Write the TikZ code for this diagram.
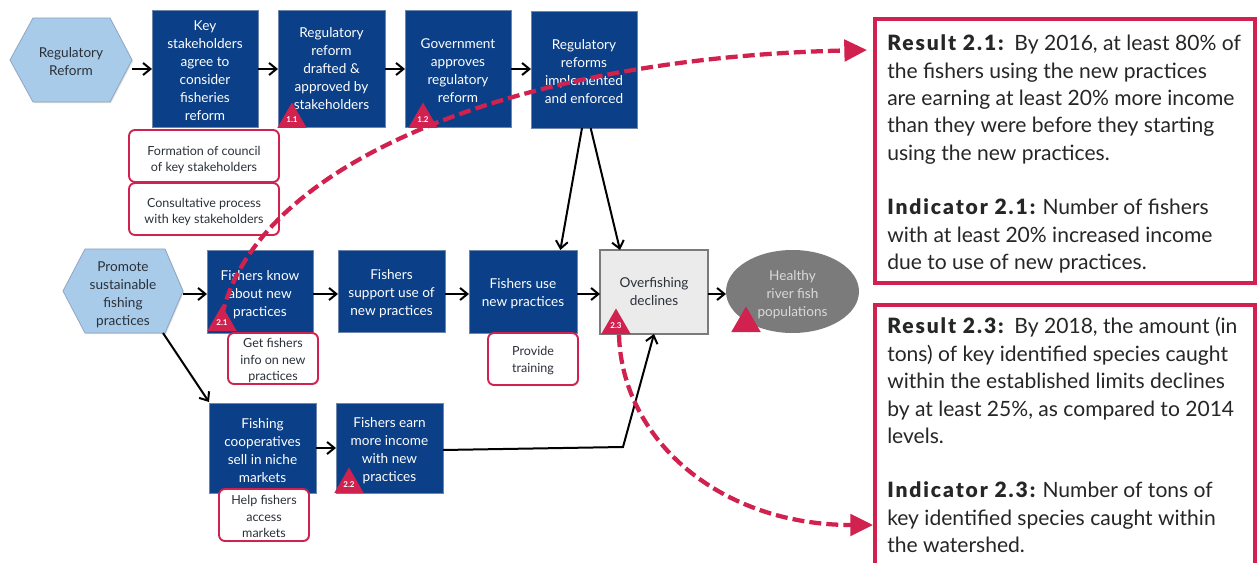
\documentclass[tikz,border=0pt]{standalone}
\usepackage{fontspec}
\setmainfont{Lato}
\newfontfamily\leadface[LetterSpace=9]{Lato Black}
\usetikzlibrary{arrows.meta,shapes.geometric,shadows}
\definecolor{crim}{HTML}{D0214F}
\definecolor{navy}{HTML}{0B3F87}
\definecolor{navyedge}{HTML}{6E86AB}
\definecolor{hexfill}{HTML}{A9CBEA}
\definecolor{hexedge}{HTML}{8FA6C2}
\definecolor{ink}{HTML}{2B3038}
\definecolor{graybl}{HTML}{7B7B7B}
\newcommand{\lead}[1]{{\leadface #1}}
\newcommand{\bp}[1]{\rule{0pt}{#1pt}}
\tikzset{
  x=0.75pt,y=-0.75pt,
  sz/.style 2 args={minimum width=#1*0.75pt,minimum height=#2*0.75pt,inner sep=0pt,outer sep=0pt},
  softshadow/.style={drop shadow={shadow xshift=0.8pt,shadow yshift=-0.8pt,opacity=.25}},
  bluebox/.style={rectangle,fill=navy,draw=navyedge,line width=0.5pt,text=white,align=center,
    font=\fontsize{10.2}{13.5}\selectfont,softshadow},
  hexshape/.style={fill=hexfill,draw=hexedge,line width=0.6pt,softshadow},
  hexlabel/.style={rectangle,text=ink,align=center,font=\fontsize{10.2}{13.5}\selectfont},
  pinkbox/.style={rectangle,rounded corners=4.5pt,fill=white,draw=crim,line width=1.4pt,text=ink,align=center,
    font=\fontsize{9.4}{12.3}\selectfont,softshadow},
  tri/.style={regular polygon,regular polygon sides=3,minimum size=25.5pt,inner sep=0pt,outer sep=0pt,fill=crim,text=white,
    font=\bfseries\fontsize{6}{6}\selectfont},
  flow/.style={draw=black,line width=1.5pt,-{Straight Barb[length=5.5pt,width=9pt,line width=1.5pt]}},
  dashcurve/.style={draw=crim,line width=3.2pt,dash pattern=on 9pt off 3.8pt,
    -{Triangle[length=17pt,width=16pt]}},
  resultbox/.style={rectangle,draw=crim,fill=white,line width=3pt},
  resulttext/.style={anchor=north west,align=left,inner sep=0pt,text=black!85,
    font=\fontsize{15.8}{20.6}\selectfont},
}
\begin{document}
\begin{tikzpicture}
\useasboundingbox (0,0) rectangle (1257,563);
\clip (0,0) rectangle (1257,563);
\fill[white] (0,0) rectangle (1257,563);
\coordinate (r1) at (0,69);
\coordinate (r2) at (0,294);
\coordinate (r3) at (0,448);
\coordinate (r4) at (0,450);
% result boxes
\node[resultbox,sz={380.5}{263.5}] (res1) at (1064.75,151.25) {};
\node[resultbox,sz={380.5}{290}] (res2) at (1064.75,449.5) {};
\node[resulttext] (res1t) at (887,34.5) {\lead{Result 2.1:}\ \ By 2016, at least 80\% of\\the fishers using the new practices\\are earning at least 20\% more income\\than they were before they starting\\using the new practices.\\[20pt]\lead{Indicator 2.1:} Number of fishers\\with at least 20\% increased income\\due to use of new practices.};
\node[resulttext] (res2t) at (887,317) {\lead{Result 2.3:}\ \ By 2018, the amount (in\\tons) of key identified species caught\\within the established limits declines\\by at least 25\%, as compared to 2014\\levels.\\[20pt]\lead{Indicator 2.3:} Number of tons of\\key identified species caught within\\the watershed.};
% row 1
\path[hexshape] (10,60) -- (33,18) -- (110,18) -- (132,60) -- (110,102) -- (33,102) -- cycle;
\node[hexlabel,sz={122}{84}] (hexa) at (71,60) {\bp{10.4}Regulatory\\Reform};
\node[bluebox,sz={106}{117}] (b1) at (205,68.5) {\bp{10.4}Key\\stakeholders\\agree to\\consider\\fisheries\\reform};
\node[bluebox,sz={107}{117}] (b2) at (331.5,68.5) {Regulatory\\reform\\drafted \&\\approved by\\stakeholders};
\node[bluebox,sz={106}{117}] (b3) at (458,68.5) {\bp{10.4}Government\\approves\\regulatory\\reform};
\node[bluebox,sz={106}{117}] (b4) at (584,69.5) {\bp{10.4}Regulatory\\reforms\\implemented\\and enforced};
\node[pinkbox,sz={150}{52}] (p1) at (204,156) {\bp{12.9}Formation of council\\of key stakeholders};
\node[pinkbox,sz={150}{52}] (p2) at (204,209) {\bp{11.4}Consultative process\\with key stakeholders};
% row 2
\path[hexshape] (63,291) -- (85,249) -- (165,249) -- (183,291) -- (165,333) -- (85,333) -- cycle;
\node[hexlabel,sz={120}{84}] (hexb) at (123,291) {\bp{13.4}Promote\\sustainable\\fishing\\practices};
\node[bluebox,sz={106}{83}] (c1) at (260,291.5) {\bp{11.9}Fishers know\\about new\\practices};
\node[bluebox,sz={107}{82}] (c2) at (391.5,291) {\bp{11.9}Fishers\\support use of\\new practices};
\node[bluebox,sz={108}{83}] (c3) at (523,291.5) {\bp{11.2}Fishers use\\new practices};
\node[rectangle,sz={108}{84},fill=black!8,draw=graybl,line width=1.4pt,text=ink,align=center,
  font=\fontsize{10.2}{13.5}\selectfont,softshadow] (over) at (654,292) {Overfishing\\declines};
\node[ellipse,sz={133}{83},fill=graybl,text=black!15,align=center,
  font=\fontsize{10.2}{13.5}\selectfont] (heal) at (792.5,291.5) {\bp{11.9}Healthy\\river fish\\populations};
\node[pinkbox,sz={90}{51}] (p3) at (273,358.5) {\bp{9.9}Get fishers\\info on new\\practices};
\node[pinkbox,sz={90}{52}] (p4) at (533,359) {\bp{9.2}Provide\\training};
% row 3
\node[bluebox,sz={107}{90}] (d1) at (262.5,448) {\bp{11.9}Fishing\\cooperatives\\sell in niche\\markets};
\node[bluebox,sz={107}{90}] (d2) at (389.5,448) {\bp{11.9}Fishers earn\\more income\\with new\\practices};
\node[pinkbox,sz={90}{52}] (p5) at (264,515) {\bp{9.2}Help fishers\\access\\markets};
% triangles
\node[tri] (t11) at (292,119.5) {1.1};
\node[tri] (t12) at (423,119.5) {1.2};
\node[tri] (t21) at (222,322.5) {2.1};
\node[tri] (t22) at (349,484.5) {2.2};
\node[tri] (t23) at (616,325.5) {2.3};
\node[tri] (t24) at (746,323.5) {};
% connectors
\draw[flow] (hexa.east |- r1) -- (b1.west |- r1);
\draw[flow] (b1.east |- r1) -- (b2.west |- r1);
\draw[flow] (b2.east |- r1) -- (b3.west |- r1);
\draw[flow] (b3.east |- r1) -- (b4.west |- r1);
\coordinate (b4a) at ([xshift=-1.5pt]b4.south);
\coordinate (b4b) at ([xshift=5pt]b4.south);
\coordinate (c3top) at ([xshift=28pt]c3.north);
\coordinate (overtop) at ([xshift=-25.5pt]over.north);
\draw[flow] (b4a) -- (c3top);
\draw[flow] (b4b) -- (overtop);
\draw[flow] (hexb.east |- r2) -- (c1.west |- r2);
\draw[flow] (c1.east |- r2) -- (c2.west |- r2);
\draw[flow] (c2.east |- r2) -- (c3.west |- r2);
\draw[flow] (c3.east |- r2) -- (over.west |- r2);
\draw[flow] (over.east |- r2) -- (heal.west |- r2);
\coordinate (hexbout) at (163,333);
\coordinate (d1in) at (209,402);
\draw[flow] (hexbout) -- (d1in);
\draw[flow] (d1.east |- r3) -- (d2.west |- r3);
\coordinate (bend) at (623,447);
\draw[flow] (d2.east |- r4) -- (bend) -- (over.south);
% dashed curves
\coordinate (k1) at (222,316);
\coordinate (k2) at (867,50);
\coordinate (k3) at (619,335);
\coordinate (k4) at (873,525);
\draw[dashcurve] (k1) .. controls (255,165) and (510,58) .. (k2);
\draw[dashcurve] (k3) .. controls (622,440) and (720,525) .. (k4);
\end{tikzpicture}
\end{document}
